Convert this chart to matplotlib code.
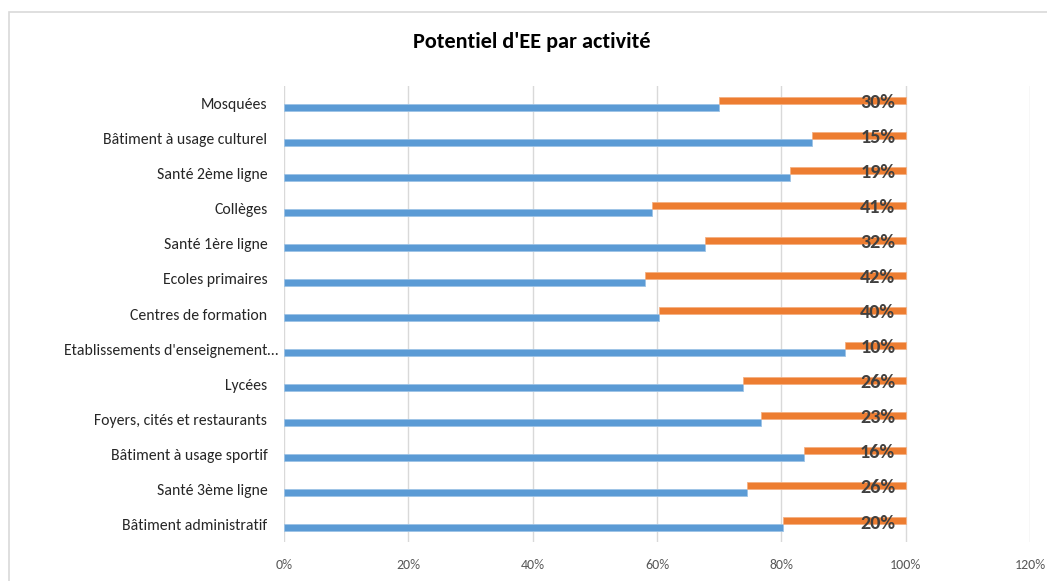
import matplotlib
matplotlib.use("Agg")
import matplotlib.pyplot as plt
from matplotlib.patches import Rectangle
from matplotlib.transforms import ScaledTranslation
import numpy as np

plt.rcParams['font.family'] = ['Carlito', 'Liberation Sans Narrow', 'DejaVu Sans']

categories = [
    "Bâtiment administratif",
    "Santé 3ème ligne",
    "Bâtiment à usage sportif",
    "Foyers, cités et restaurants",
    "Lycées",
    "Etablissements d'enseignement…",
    "Centres de formation",
    "Ecoles primaires",
    "Santé 1ère ligne",
    "Collèges",
    "Santé 2ème ligne",
    "Bâtiment à usage culturel",
    "Mosquées",
]
realise = [0.802, 0.744, 0.837, 0.768, 0.739, 0.903, 0.603, 0.580, 0.678, 0.592, 0.814, 0.850, 0.699]
potentiel = [0.198, 0.256, 0.163, 0.232, 0.261, 0.097, 0.397, 0.420, 0.322, 0.408, 0.186, 0.150, 0.301]
potentiel_labels = ["20%", "26%", "16%", "23%", "26%", "10%", "40%", "42%", "32%", "41%", "19%", "15%", "30%"]
xticks = [0, 0.2, 0.4, 0.6, 0.8, 1.0, 1.2]
xticklabels = ["0%", "20%", "40%", "60%", "80%", "100%", "120%"]
title = "Potentiel d'EE par activité"

W, H = 1047, 581
fig = plt.figure(figsize=(W / 100, H / 100), dpi=100)
fig.patch.set_facecolor("white")

# chart border
fig.add_artist(Rectangle((9 / W, -0.05), 1.2, 1 - 12 / H + 0.05, transform=fig.transFigure,
                         fill=False, edgecolor="#d9d9d9", linewidth=1.2))

ax = fig.add_axes([284 / W, 1 - 542 / H, (1030 - 284) / W, (542 - 86) / H])
y = np.arange(len(categories))
bh = 0.2
ax.barh(y - bh / 2, realise, height=bh, color="#5B9BD5", edgecolor="#9DC3E6", linewidth=0.6, zorder=3)
ax.barh(y + bh / 2, potentiel, left=realise, height=bh, color="#ED7D31", edgecolor="#F4B183", linewidth=0.6, zorder=3)

for i, lab in enumerate(potentiel_labels):
    ax.text(0.983, y[i] + 0.04, lab, ha="right", va="center", fontsize=14.5,
            fontweight="bold", color="#404040", zorder=4)

ax.set_xlim(0, 1.2)
ax.set_ylim(-0.5, len(categories) - 0.5)
ax.set_xticks(xticks)
ax.set_xticklabels(xticklabels, color="#595959", fontsize=10)
ax.set_yticks(y)
ax.set_yticklabels(categories, color="#262626", fontsize=11.3)
ax.tick_params(axis="both", length=0)
ax.tick_params(axis="y", pad=12)
ax.tick_params(axis="x", pad=12)
for s in ax.spines.values():
    s.set_visible(False)
ax.grid(axis="x", color="#d9d9d9", linewidth=1, zorder=0)
ax.set_axisbelow(True)

# truncated long label sits closer to the axis, as in the reference
for lbl in ax.get_yticklabels():
    if lbl.get_text().endswith("…"):
        lbl.set_transform(lbl.get_transform() + ScaledTranslation(11 / 100, 0, fig.dpi_scale_trans))

fig.text(532 / W, 1 - 42 / H, title, ha="center", va="center", fontsize=16,
         fontweight="bold", color="#000000")

fig.savefig("out.png", dpi=100)
